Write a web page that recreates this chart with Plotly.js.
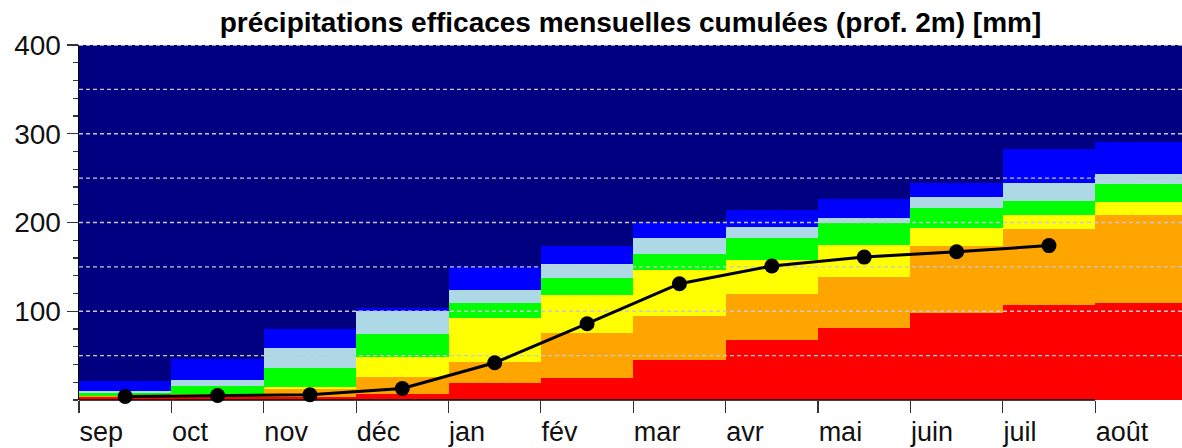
<!DOCTYPE html>
<html>
<head>
<meta charset="utf-8">
<script src="https://cdn.plot.ly/plotly-3.0.1.min.js"></script>
<style>html,body{margin:0;padding:0;background:#fff;}#chart{width:1182px;height:448px;}</style>
</head>
<body>
<div id="chart"></div>
<script>
// Month tick labels
const months = ["sep","oct","nov","déc","jan","fév","mar","avr","mai","juin","juil","août"];
// Cumulative upper boundary of each band, per month (mm)
const red       = [3, 3, 3, 7, 19, 25, 45, 68, 81, 98, 107, 109];
const orange    = [4, 5, 12, 26, 43, 76, 95, 120, 139, 173, 193, 208];
const yellow    = [5, 7, 15, 49, 92, 118, 146, 158, 175, 194, 208, 223];
const green     = [8, 16, 36, 74, 109, 137, 165, 182, 200, 216, 224, 243];
const lightblue = [10, 23, 59, 100, 124, 153, 183, 195, 205, 229, 245, 255];
const blue      = [21, 46, 80, 104, 150, 173, 201, 214, 226, 245, 283, 291];
const top400    = [400, 400, 400, 400, 400, 400, 400, 400, 400, 400, 400, 400];
// Observed cumulative effective precipitation (mid-month points)
const observed  = [4, 5, 6, 13, 42, 86, 131, 151, 161, 167, 174];
// Dashed grid levels
const gridLevels = [50, 100, 150, 200, 250, 300, 350, 400];

const bands = [
  {v: red, c: "#ff0000"},
  {v: orange, c: "#ffa500"},
  {v: yellow, c: "#ffff00"},
  {v: green, c: "#00ff00"},
  {v: lightblue, c: "#add8e6"},
  {v: blue, c: "#0000ff"},
  {v: top400, c: "#000080"}
];
const xc = months.map((m, i) => i + 0.5);
const traces = [];
let prev = months.map(() => 0);
bands.forEach(b => {
  traces.push({
    type: "bar", x: xc, y: b.v.map((v, i) => v - prev[i]), base: prev.slice(),
    width: months.map(() => 1), marker: {color: b.c, line: {width: 0}},
    hoverinfo: "skip", showlegend: false
  });
  prev = b.v.slice();
});
// grid lines trace (drawn above bands, below the curve)
const gx = [], gy = [];
gridLevels.forEach(g => { gx.push(0, months.length, null); gy.push(g, g, null); });
traces.push({type: "scatter", mode: "lines", x: gx, y: gy,
  line: {color: "rgb(200,200,210)", width: 1.4, dash: "4px,3px"},
  hoverinfo: "skip", showlegend: false});
traces.push({type: "scatter", mode: "lines+markers",
  x: observed.map((v, i) => i + 0.5), y: observed,
  line: {color: "#000", width: 3}, marker: {color: "#000", size: 15},
  cliponaxis: false, hoverinfo: "skip", showlegend: false});

const font = "Liberation Sans, Arial, Helvetica, sans-serif";
const layout = {
  width: 1182, height: 448,
  margin: {l: 79, r: 0, t: 45, b: 48, pad: 0},
  paper_bgcolor: "#fff", plot_bgcolor: "#000080",
  barmode: "overlay", bargap: 0,
  title: {text: "<b>précipitations efficaces mensuelles cumulées (prof. 2m) [mm]</b>",
    font: {family: font, size: 28, color: "#000"}, x: 0.5, xref: "paper", xanchor: "center",
    y: 0.95, yref: "container", yanchor: "middle"},
  xaxis: {range: [0, 11.94], tickvals: months.map((m, i) => i), ticktext: months,
    ticklabelposition: "outside right", ticklabelstandoff: 8,
    ticks: "outside", ticklen: 12, tickcolor: "#333",
    tickwidth: 1.2, showgrid: false, zeroline: false, showline: false,
    tickfont: {family: font, size: 27, color: "#111"}, fixedrange: true},
  yaxis: {range: [0, 400], tickvals: [100, 200, 300, 400], ticks: "outside", ticklen: 11,
    tickcolor: "#333", tickwidth: 1.2, showgrid: false, zeroline: false,
    showline: true, linecolor: "#000", linewidth: 1.5,
    minor: {dtick: 20, tick0: 0, ticks: "outside", ticklen: 5, tickcolor: "#333", showgrid: false},
    tickfont: {family: font, size: 28, color: "#111"}, fixedrange: true},
  shapes: [{type: "line", xref: "x", yref: "paper", x0: 0, x1: 11, y0: 0, y1: 0,
    line: {color: "#000", width: 1.5}}]
};
Plotly.newPlot("chart", traces, layout, {displayModeBar: false, staticPlot: true});
</script>
</body>
</html>
